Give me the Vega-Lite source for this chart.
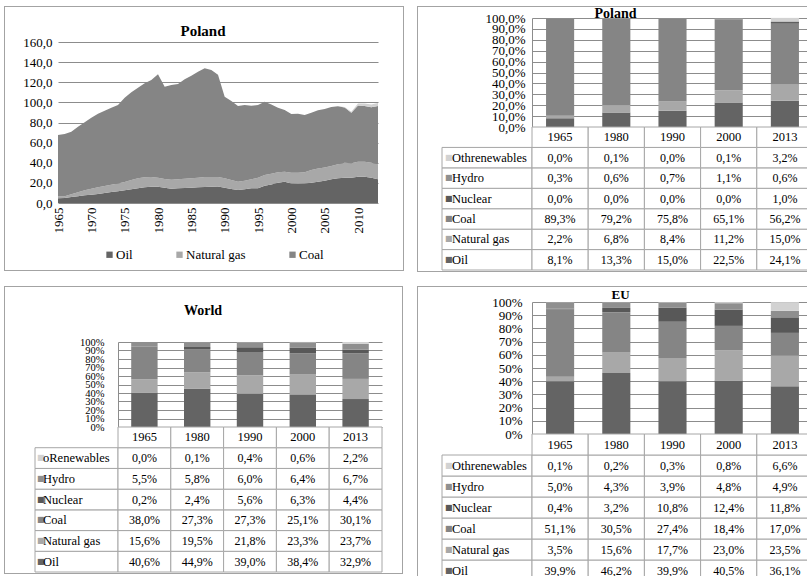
{
  "$schema": "https://vega.github.io/schema/vega-lite/v6.json",
  "background": "white",
  "padding": {"left": 4, "top": 6, "right": 0, "bottom": 0},
  "config": {
    "font": "Liberation Serif",
    "view": {"stroke": null},
    "locale": {"number": {"decimal": ",", "thousands": " ", "grouping": [3], "currency": ["", ""]}},
    "axis": {"labelFont": "Liberation Serif", "labelColor": "#000", "labelFontSize": 13, "ticks": false, "domain": false, "gridColor": "#8c8c8c", "gridOpacity": 1, "labelOverlap": false},
    "title": {"font": "Liberation Serif", "fontSize": 15, "fontWeight": "bold", "color": "#000"},
    "legend": {"labelFont": "Liberation Serif", "labelFontSize": 13, "labelColor": "#000"},
    "text": {"font": "Liberation Serif"}
  },
  "datasets": {
    "ranks": [
      {"source": "Oil", "rank": 1}, {"source": "Natural gas", "rank": 2}, {"source": "Coal", "rank": 3},
      {"source": "Nuclear", "rank": 4}, {"source": "Other", "rank": 4}, {"source": "Hydro", "rank": 5},
      {"source": "Othrenewables", "rank": 6}, {"source": "oRenewables", "rank": 6}
    ],
    "blank": [{"k": 1}],
    "area": [
      {"year": 1965, "Oil": 4.6, "Natural gas": 2.0, "Coal": 61.0, "Other": 0},
      {"year": 1966, "Oil": 5.0, "Natural gas": 1.8, "Coal": 61.8, "Other": 0},
      {"year": 1967, "Oil": 6.0, "Natural gas": 2.6, "Coal": 62.3, "Other": 0},
      {"year": 1968, "Oil": 6.6, "Natural gas": 4.0, "Coal": 65.3, "Other": 0},
      {"year": 1969, "Oil": 7.6, "Natural gas": 5.0, "Coal": 67.6, "Other": 0},
      {"year": 1970, "Oil": 8.3, "Natural gas": 5.9, "Coal": 70.6, "Other": 0},
      {"year": 1971, "Oil": 8.9, "Natural gas": 6.7, "Coal": 73.2, "Other": 0},
      {"year": 1972, "Oil": 9.9, "Natural gas": 7.0, "Coal": 74.9, "Other": 0},
      {"year": 1973, "Oil": 10.9, "Natural gas": 7.3, "Coal": 76.5, "Other": 0},
      {"year": 1974, "Oil": 11.6, "Natural gas": 7.9, "Coal": 77.9, "Other": 0},
      {"year": 1975, "Oil": 12.6, "Natural gas": 8.3, "Coal": 83.8, "Other": 0},
      {"year": 1976, "Oil": 13.6, "Natural gas": 9.3, "Coal": 87.1, "Other": 0},
      {"year": 1977, "Oil": 14.6, "Natural gas": 9.9, "Coal": 90.1, "Other": 0},
      {"year": 1978, "Oil": 15.6, "Natural gas": 9.9, "Coal": 93.4, "Other": 0},
      {"year": 1979, "Oil": 16.2, "Natural gas": 9.6, "Coal": 96.4, "Other": 0},
      {"year": 1980, "Oil": 16.2, "Natural gas": 9.0, "Coal": 102.7, "Other": 0},
      {"year": 1981, "Oil": 15.2, "Natural gas": 8.6, "Coal": 91.8, "Other": 0},
      {"year": 1982, "Oil": 14.2, "Natural gas": 9.0, "Coal": 94.1, "Other": 0},
      {"year": 1983, "Oil": 14.6, "Natural gas": 8.9, "Coal": 94.8, "Other": 0},
      {"year": 1984, "Oil": 14.9, "Natural gas": 9.3, "Coal": 98.7, "Other": 0},
      {"year": 1985, "Oil": 15.2, "Natural gas": 9.3, "Coal": 102.0, "Other": 0},
      {"year": 1986, "Oil": 15.6, "Natural gas": 9.6, "Coal": 105.3, "Other": 0},
      {"year": 1987, "Oil": 15.9, "Natural gas": 9.9, "Coal": 108.0, "Other": 0},
      {"year": 1988, "Oil": 16.2, "Natural gas": 9.6, "Coal": 106.4, "Other": 0},
      {"year": 1989, "Oil": 16.5, "Natural gas": 9.3, "Coal": 101.7, "Other": 0},
      {"year": 1990, "Oil": 15.2, "Natural gas": 9.3, "Coal": 81.2, "Other": 0},
      {"year": 1991, "Oil": 13.9, "Natural gas": 9.0, "Coal": 78.5, "Other": 0},
      {"year": 1992, "Oil": 12.9, "Natural gas": 8.3, "Coal": 75.2, "Other": 0},
      {"year": 1993, "Oil": 13.6, "Natural gas": 8.6, "Coal": 75.2, "Other": 0},
      {"year": 1994, "Oil": 14.6, "Natural gas": 8.9, "Coal": 73.2, "Other": 0},
      {"year": 1995, "Oil": 14.6, "Natural gas": 10.6, "Coal": 72.2, "Other": 0},
      {"year": 1996, "Oil": 17.2, "Natural gas": 10.6, "Coal": 72.9, "Other": 0},
      {"year": 1997, "Oil": 18.5, "Natural gas": 10.6, "Coal": 68.9, "Other": 0},
      {"year": 1998, "Oil": 20.2, "Natural gas": 10.3, "Coal": 64.2, "Other": 0},
      {"year": 1999, "Oil": 21.2, "Natural gas": 9.9, "Coal": 61.3, "Other": 0},
      {"year": 2000, "Oil": 19.5, "Natural gas": 10.6, "Coal": 58.3, "Other": 0},
      {"year": 2001, "Oil": 19.2, "Natural gas": 10.9, "Coal": 58.7, "Other": 0},
      {"year": 2002, "Oil": 19.5, "Natural gas": 11.0, "Coal": 56.9, "Other": 0},
      {"year": 2003, "Oil": 20.2, "Natural gas": 12.6, "Coal": 57.0, "Other": 0},
      {"year": 2004, "Oil": 21.2, "Natural gas": 13.2, "Coal": 57.7, "Other": 0},
      {"year": 2005, "Oil": 22.2, "Natural gas": 13.2, "Coal": 58.0, "Other": 0},
      {"year": 2006, "Oil": 23.5, "Natural gas": 13.3, "Coal": 58.6, "Other": 0},
      {"year": 2007, "Oil": 24.5, "Natural gas": 13.9, "Coal": 57.7, "Other": 0},
      {"year": 2008, "Oil": 25.2, "Natural gas": 14.9, "Coal": 54.9, "Other": 0.4},
      {"year": 2009, "Oil": 25.2, "Natural gas": 14.2, "Coal": 50.4, "Other": 1.0},
      {"year": 2010, "Oil": 26.2, "Natural gas": 14.9, "Coal": 55.9, "Other": 2.0},
      {"year": 2011, "Oil": 26.2, "Natural gas": 14.9, "Coal": 55.4, "Other": 2.5},
      {"year": 2012, "Oil": 25.2, "Natural gas": 14.9, "Coal": 55.1, "Other": 2.8},
      {"year": 2013, "Oil": 23.5, "Natural gas": 14.9, "Coal": 58.0, "Other": 3.0}
    ],
    "shares": [
      {"region": "Poland", "year": "1965", "Othrenewables": 0.000, "Hydro": 0.003, "Nuclear": 0.000, "Coal": 0.893, "Natural gas": 0.022, "Oil": 0.081},
      {"region": "Poland", "year": "1980", "Othrenewables": 0.001, "Hydro": 0.006, "Nuclear": 0.000, "Coal": 0.792, "Natural gas": 0.068, "Oil": 0.133},
      {"region": "Poland", "year": "1990", "Othrenewables": 0.000, "Hydro": 0.007, "Nuclear": 0.000, "Coal": 0.758, "Natural gas": 0.084, "Oil": 0.150},
      {"region": "Poland", "year": "2000", "Othrenewables": 0.001, "Hydro": 0.011, "Nuclear": 0.000, "Coal": 0.651, "Natural gas": 0.112, "Oil": 0.225},
      {"region": "Poland", "year": "2013", "Othrenewables": 0.032, "Hydro": 0.006, "Nuclear": 0.010, "Coal": 0.562, "Natural gas": 0.150, "Oil": 0.241},
      {"region": "World", "year": "1965", "oRenewables": 0.000, "Hydro": 0.055, "Nuclear": 0.002, "Coal": 0.380, "Natural gas": 0.156, "Oil": 0.406},
      {"region": "World", "year": "1980", "oRenewables": 0.001, "Hydro": 0.058, "Nuclear": 0.024, "Coal": 0.273, "Natural gas": 0.195, "Oil": 0.449},
      {"region": "World", "year": "1990", "oRenewables": 0.004, "Hydro": 0.060, "Nuclear": 0.056, "Coal": 0.273, "Natural gas": 0.218, "Oil": 0.390},
      {"region": "World", "year": "2000", "oRenewables": 0.006, "Hydro": 0.064, "Nuclear": 0.063, "Coal": 0.251, "Natural gas": 0.233, "Oil": 0.384},
      {"region": "World", "year": "2013", "oRenewables": 0.022, "Hydro": 0.067, "Nuclear": 0.044, "Coal": 0.301, "Natural gas": 0.237, "Oil": 0.329},
      {"region": "EU", "year": "1965", "Othrenewables": 0.001, "Hydro": 0.050, "Nuclear": 0.004, "Coal": 0.511, "Natural gas": 0.035, "Oil": 0.399},
      {"region": "EU", "year": "1980", "Othrenewables": 0.002, "Hydro": 0.043, "Nuclear": 0.032, "Coal": 0.305, "Natural gas": 0.156, "Oil": 0.462},
      {"region": "EU", "year": "1990", "Othrenewables": 0.003, "Hydro": 0.039, "Nuclear": 0.108, "Coal": 0.274, "Natural gas": 0.177, "Oil": 0.399},
      {"region": "EU", "year": "2000", "Othrenewables": 0.008, "Hydro": 0.048, "Nuclear": 0.124, "Coal": 0.184, "Natural gas": 0.230, "Oil": 0.405},
      {"region": "EU", "year": "2013", "Othrenewables": 0.066, "Hydro": 0.049, "Nuclear": 0.118, "Coal": 0.170, "Natural gas": 0.235, "Oil": 0.361}
    ]
  },
  "resolve": {"scale": {"color": "independent"}},
  "spacing": 13,
  "hconcat": [
    {
      "spacing": 15,
      "resolve": {"scale": {"color": "independent"}},
      "vconcat": [
        {
          "columns": 3, "spacing": 0, "bounds": "flush", "align": "each",
          "resolve": {"scale": {"color": "independent"}},
          "concat": [
            {"width": 1, "height": 1, "data": {"name": "blank"}, "mark": {"type": "text", "text": "", "fontSize": 0}, "encoding": {}, "view": {"fill": "#a3a3a3"}},
            {"width": 398, "height": 1, "data": {"name": "blank"}, "mark": {"type": "text", "text": "", "fontSize": 0}, "encoding": {}, "view": {"fill": "#a3a3a3"}},
            {"width": 1, "height": 1, "data": {"name": "blank"}, "mark": {"type": "text", "text": "", "fontSize": 0}, "encoding": {}, "view": {"fill": "#a3a3a3"}},
            {"width": 1, "height": 263, "data": {"name": "blank"}, "mark": {"type": "text", "text": "", "fontSize": 0}, "encoding": {}, "view": {"fill": "#a3a3a3"}},
            {
              "spacing": 0, "bounds": "flush",
              "resolve": {"scale": {"color": "independent"}},
              "hconcat": [
                {"width": 53, "height": 1, "data": {"name": "blank"}, "mark": {"type": "text", "text": "", "fontSize": 0}, "encoding": {}},
                {
                  "spacing": 0, "bounds": "flush",
                  "resolve": {"scale": {"color": "independent"}},
                  "vconcat": [
                    {"width": 1, "height": 35, "data": {"name": "blank"}, "mark": {"type": "text", "text": "", "fontSize": 0}, "encoding": {}},
                    {
                      "width": 320, "height": 161,
                      "title": {"text": "Poland", "fontSize": 15, "frame": "group", "dx": -15, "offset": -3},
                      "data": {"name": "area"},
                      "transform": [
                        {"fold": ["Oil", "Natural gas", "Coal", "Other"], "as": ["source", "value"]},
                        {"lookup": "source", "from": {"data": {"name": "ranks"}, "key": "source", "fields": ["rank"]}}
                      ],
                      "mark": {"type": "area", "interpolate": "linear"},
                      "encoding": {
                        "x": {"field": "year", "type": "quantitative", "scale": {"domain": [1965, 2013], "nice": false, "zero": false},
                              "axis": {"values": [1965, 1970, 1975, 1980, 1985, 1990, 1995, 2000, 2005, 2010], "format": "d", "labelAngle": -90, "title": null, "grid": false, "labelPadding": 4}},
                        "y": {"field": "value", "type": "quantitative", "stack": "zero", "scale": {"domain": [0, 160], "nice": false},
                              "axis": {"values": [0, 20, 40, 60, 80, 100, 120, 140, 160], "format": ".1f", "grid": true, "title": null, "labelPadding": 6}},
                        "color": {"field": "source", "type": "nominal",
                                  "scale": {"domain": ["Oil", "Natural gas", "Coal", "Other"], "range": ["#646464", "#a8a8a8", "#858585", "#d2d2d2"]},
                                  "legend": {"orient": "none", "legendX": 45, "legendY": 206, "title": null, "direction": "horizontal", "symbolType": "square", "symbolSize": 40, "symbolStrokeWidth": 0, "labelOffset": 0, "columnPadding": 40, "values": ["Oil", "Natural gas", "Coal"]}},
                        "order": {"field": "rank", "type": "quantitative"}
                      }
                    }
                  ]
                }
              ]
            },
            {"width": 1, "height": 263, "data": {"name": "blank"}, "mark": {"type": "text", "text": "", "fontSize": 0}, "encoding": {}, "view": {"fill": "#a3a3a3"}},
            {"width": 1, "height": 1, "data": {"name": "blank"}, "mark": {"type": "text", "text": "", "fontSize": 0}, "encoding": {}, "view": {"fill": "#a3a3a3"}},
            {"width": 398, "height": 1, "data": {"name": "blank"}, "mark": {"type": "text", "text": "", "fontSize": 0}, "encoding": {}, "view": {"fill": "#a3a3a3"}},
            {"width": 1, "height": 1, "data": {"name": "blank"}, "mark": {"type": "text", "text": "", "fontSize": 0}, "encoding": {}, "view": {"fill": "#a3a3a3"}}
          ]
        },
        {
          "columns": 3, "spacing": 0, "bounds": "flush", "align": "each",
          "concat": [
            {"width": 1, "height": 1, "data": {"name": "blank"}, "mark": {"type": "text", "text": "", "fontSize": 0}, "encoding": {}, "view": {"fill": "#a3a3a3"}},
            {"width": 397, "height": 1, "data": {"name": "blank"}, "mark": {"type": "text", "text": "", "fontSize": 0}, "encoding": {}, "view": {"fill": "#a3a3a3"}},
            {"width": 1, "height": 1, "data": {"name": "blank"}, "mark": {"type": "text", "text": "", "fontSize": 0}, "encoding": {}, "view": {"fill": "#a3a3a3"}},
            {"width": 1, "height": 286, "data": {"name": "blank"}, "mark": {"type": "text", "text": "", "fontSize": 0}, "encoding": {}, "view": {"fill": "#a3a3a3"}},
            {
              "spacing": 0, "bounds": "flush",
              "hconcat": [
                {"width": 30, "height": 1, "data": {"name": "blank"}, "mark": {"type": "text", "text": "", "fontSize": 0}, "encoding": {}},
                {
                  "spacing": 0, "bounds": "flush",
                  "vconcat": [
                    {"width": 1, "height": 55, "data": {"name": "blank"}, "mark": {"type": "text", "text": "", "fontSize": 0}, "encoding": {}},
                    {
                      "columns": 2, "spacing": 0, "bounds": "flush", "align": "each",
                      "concat": [
                        {"width": 83, "height": 85, "data": {"name": "blank"}, "mark": {"type": "text", "text": "", "fontSize": 0}, "encoding": {}},
                        {
                          "width": 264, "height": 85,
                          "title": {"text": "World", "fontSize": 14, "frame": "group", "dx": -47, "offset": 19},
                          "data": {"name": "shares"},
                          "transform": [
                            {"filter": "datum.region == 'World'"},
                            {"fold": ["Oil", "Natural gas", "Coal", "Nuclear", "Hydro", "Othrenewables", "oRenewables"], "as": ["source", "share"]},
                            {"filter": "datum.share != null"},
                            {"lookup": "source", "from": {"data": {"name": "ranks"}, "key": "source", "fields": ["rank"]}}
                          ],
                          "mark": {"type": "bar"},
                          "encoding": {
                            "x": {"field": "year", "type": "nominal", "scale": {"paddingInner": 0.5, "paddingOuter": 0.25}, "axis": null},
                            "y": {"field": "share", "type": "quantitative", "stack": "zero", "scale": {"domain": [0, 1], "nice": false},
                                  "axis": {"values": [0, 0.1, 0.2, 0.3, 0.4, 0.5, 0.6, 0.7, 0.8, 0.9, 1], "format": ".0%", "grid": true, "domain": true, "domainColor": "#8c8c8c", "labelFontSize": 10.5, "labelPadding": 14, "title": null}},
                            "color": {"field": "source", "type": "nominal",
                                      "scale": {"domain": ["Oil", "Natural gas", "Coal", "Nuclear", "Hydro", "Othrenewables", "oRenewables"], "range": ["#646464", "#a8a8a8", "#858585", "#585858", "#8f8f8f", "#d2d2d2", "#d2d2d2"]},
                                      "legend": null},
                            "order": {"field": "rank", "type": "quantitative"}
                          }
                        },
                        {
                          "width": 83, "height": 145,
                          "data": {"name": "shares"},
                          "transform": [
                            {"filter": "datum.region == 'World'"},
                            {"fold": ["Oil", "Natural gas", "Coal", "Nuclear", "Hydro", "Othrenewables", "oRenewables"], "as": ["source", "share"]},
                            {"filter": "datum.share != null"},
                            {"aggregate": [{"op": "count", "as": "n"}], "groupby": ["source"]}
                          ],
                          "encoding": {
                            "y": {"field": "source", "type": "nominal", "scale": {"domain": ["hdr", "oRenewables", "Hydro", "Nuclear", "Coal", "Natural gas", "Oil"], "paddingInner": 0, "paddingOuter": 0}, "axis": null}
                          },
                          "resolve": {"scale": {"x": "independent"}},
                          "layer": [
                            {
                              "mark": {"type": "rect", "fill": "white", "stroke": "#a6a6a6", "strokeWidth": 1},
                              "encoding": {"x": {"datum": "lbl", "type": "nominal", "scale": {"paddingInner": 0, "paddingOuter": 0}, "axis": null}}
                            },
                            {
                              "mark": {"type": "text", "text": "■", "font": "DejaVu Sans", "fontSize": 8, "align": "left", "baseline": "middle", "dx": 2},
                              "encoding": {
                                "x": {"datum": "lbl", "type": "nominal", "scale": {"type": "point", "padding": 0, "align": 0}, "axis": null},
                                "color": {"field": "source", "type": "nominal",
                                          "scale": {"domain": ["Oil", "Natural gas", "Coal", "Nuclear", "Hydro", "Othrenewables", "oRenewables"], "range": ["#646464", "#a8a8a8", "#858585", "#585858", "#8f8f8f", "#d2d2d2", "#d2d2d2"]},
                                          "legend": null}
                              }
                            },
                            {
                              "mark": {"type": "text", "font": "Liberation Serif", "fontSize": 12.5, "align": "left", "baseline": "middle", "dx": 8},
                              "encoding": {
                                "x": {"datum": "lbl", "type": "nominal", "scale": {"type": "point", "padding": 0, "align": 0}, "axis": null},
                                "text": {"field": "source"}
                              }
                            }
                          ]
                        },
                        {
                          "width": 264, "height": 145,
                          "data": {"name": "shares"},
                          "transform": [
                            {"filter": "datum.region == 'World'"},
                            {"fold": ["Oil", "Natural gas", "Coal", "Nuclear", "Hydro", "Othrenewables", "oRenewables"], "as": ["source", "share"]},
                            {"filter": "datum.share != null"}
                          ],
                          "encoding": {
                            "y": {"field": "source", "type": "nominal", "scale": {"domain": ["hdr", "oRenewables", "Hydro", "Nuclear", "Coal", "Natural gas", "Oil"], "paddingInner": 0, "paddingOuter": 0}, "axis": null}
                          },
                          "resolve": {"scale": {"x": "independent"}},
                          "layer": [
                            {
                              "mark": {"type": "rect", "fill": "white", "stroke": "#a6a6a6", "strokeWidth": 1},
                              "encoding": {"x": {"field": "year", "type": "nominal", "scale": {"paddingInner": 0, "paddingOuter": 0}, "axis": null}}
                            },
                            {
                              "mark": {"type": "text", "font": "Liberation Serif", "fontSize": 12, "baseline": "middle"},
                              "encoding": {
                                "x": {"field": "year", "type": "nominal", "axis": null},
                                "text": {"field": "share", "type": "quantitative", "format": ".1%"}
                              }
                            },
                            {
                              "transform": [{"aggregate": [{"op": "count", "as": "n"}], "groupby": ["year"]}],
                              "mark": {"type": "rect", "fill": "white", "stroke": "#a6a6a6", "strokeWidth": 1},
                              "encoding": {
                                "x": {"field": "year", "type": "nominal", "scale": {"paddingInner": 0, "paddingOuter": 0}, "axis": null},
                                "y": {"datum": "hdr", "type": "nominal", "scale": {"domain": ["hdr", "oRenewables", "Hydro", "Nuclear", "Coal", "Natural gas", "Oil"], "paddingInner": 0, "paddingOuter": 0}, "axis": null}
                              }
                            },
                            {
                              "transform": [{"aggregate": [{"op": "count", "as": "n"}], "groupby": ["year"]}],
                              "mark": {"type": "text", "font": "Liberation Serif", "fontSize": 12.5, "baseline": "middle"},
                              "encoding": {
                                "x": {"field": "year", "type": "nominal", "axis": null},
                                "y": {"datum": "hdr", "type": "nominal", "scale": {"domain": ["hdr", "oRenewables", "Hydro", "Nuclear", "Coal", "Natural gas", "Oil"], "paddingInner": 0, "paddingOuter": 0}, "axis": null},
                                "text": {"field": "year"}
                              }
                            }
                          ]
                        }
                      ]
                    }
                  ]
                }
              ]
            },
            {"width": 1, "height": 286, "data": {"name": "blank"}, "mark": {"type": "text", "text": "", "fontSize": 0}, "encoding": {}, "view": {"fill": "#a3a3a3"}},
            {"width": 1, "height": 1, "data": {"name": "blank"}, "mark": {"type": "text", "text": "", "fontSize": 0}, "encoding": {}, "view": {"fill": "#a3a3a3"}},
            {"width": 397, "height": 1, "data": {"name": "blank"}, "mark": {"type": "text", "text": "", "fontSize": 0}, "encoding": {}, "view": {"fill": "#a3a3a3"}},
            {"width": 1, "height": 1, "data": {"name": "blank"}, "mark": {"type": "text", "text": "", "fontSize": 0}, "encoding": {}, "view": {"fill": "#a3a3a3"}}
          ]
        }
      ]
    },
    {
      "spacing": 14,
      "vconcat": [
        {
          "columns": 3, "spacing": 0, "bounds": "flush", "align": "each",
          "concat": [
            {"width": 1, "height": 1, "data": {"name": "blank"}, "mark": {"type": "text", "text": "", "fontSize": 0}, "encoding": {}, "view": {"fill": "#a3a3a3"}},
            {"width": 400, "height": 1, "data": {"name": "blank"}, "mark": {"type": "text", "text": "", "fontSize": 0}, "encoding": {}, "view": {"fill": "#a3a3a3"}},
            {"width": 1, "height": 1, "data": {"name": "blank"}, "mark": {"type": "text", "text": "", "fontSize": 0}, "encoding": {}, "view": {"fill": "#a3a3a3"}},
            {"width": 1, "height": 264, "data": {"name": "blank"}, "mark": {"type": "text", "text": "", "fontSize": 0}, "encoding": {}, "view": {"fill": "#a3a3a3"}},
            {
              "spacing": 0, "bounds": "flush",
              "hconcat": [
                {"width": 24, "height": 1, "data": {"name": "blank"}, "mark": {"type": "text", "text": "", "fontSize": 0}, "encoding": {}},
                {
                  "spacing": 0, "bounds": "flush",
                  "vconcat": [
                    {"width": 1, "height": 11, "data": {"name": "blank"}, "mark": {"type": "text", "text": "", "fontSize": 0}, "encoding": {}},
                    {
                      "columns": 2, "spacing": 0, "bounds": "flush", "align": "each",
                      "concat": [
                        {"width": 90, "height": 109, "data": {"name": "blank"}, "mark": {"type": "text", "text": "", "fontSize": 0}, "encoding": {}},
                        {
                          "width": 281, "height": 109,
                          "title": {"text": "Poland", "fontSize": 14, "frame": "group", "dx": -57, "offset": -9},
                          "data": {"name": "shares"},
                          "transform": [
                            {"filter": "datum.region == 'Poland'"},
                            {"fold": ["Oil", "Natural gas", "Coal", "Nuclear", "Hydro", "Othrenewables", "oRenewables"], "as": ["source", "share"]},
                            {"filter": "datum.share != null"},
                            {"lookup": "source", "from": {"data": {"name": "ranks"}, "key": "source", "fields": ["rank"]}}
                          ],
                          "mark": {"type": "bar"},
                          "encoding": {
                            "x": {"field": "year", "type": "nominal", "scale": {"paddingInner": 0.5, "paddingOuter": 0.25}, "axis": null},
                            "y": {"field": "share", "type": "quantitative", "stack": "zero", "scale": {"domain": [0, 1], "nice": false},
                                  "axis": {"values": [0, 0.1, 0.2, 0.3, 0.4, 0.5, 0.6, 0.7, 0.8, 0.9, 1], "format": ".1%", "grid": true, "domain": true, "domainColor": "#8c8c8c", "labelFontSize": 13, "labelPadding": 7, "title": null}},
                            "color": {"field": "source", "type": "nominal",
                                      "scale": {"domain": ["Oil", "Natural gas", "Coal", "Nuclear", "Hydro", "Othrenewables", "oRenewables"], "range": ["#646464", "#a8a8a8", "#858585", "#585858", "#8f8f8f", "#d2d2d2", "#d2d2d2"]},
                                      "legend": null},
                            "order": {"field": "rank", "type": "quantitative"}
                          }
                        },
                        {
                          "width": 90, "height": 143,
                          "data": {"name": "shares"},
                          "transform": [
                            {"filter": "datum.region == 'Poland'"},
                            {"fold": ["Oil", "Natural gas", "Coal", "Nuclear", "Hydro", "Othrenewables", "oRenewables"], "as": ["source", "share"]},
                            {"filter": "datum.share != null"},
                            {"aggregate": [{"op": "count", "as": "n"}], "groupby": ["source"]}
                          ],
                          "encoding": {
                            "y": {"field": "source", "type": "nominal", "scale": {"domain": ["hdr", "Othrenewables", "Hydro", "Nuclear", "Coal", "Natural gas", "Oil"], "paddingInner": 0, "paddingOuter": 0}, "axis": null}
                          },
                          "resolve": {"scale": {"x": "independent"}},
                          "layer": [
                            {
                              "mark": {"type": "rect", "fill": "white", "stroke": "#a6a6a6", "strokeWidth": 1},
                              "encoding": {"x": {"datum": "lbl", "type": "nominal", "scale": {"paddingInner": 0, "paddingOuter": 0}, "axis": null}}
                            },
                            {
                              "mark": {"type": "text", "text": "■", "font": "DejaVu Sans", "fontSize": 8, "align": "left", "baseline": "middle", "dx": 3},
                              "encoding": {
                                "x": {"datum": "lbl", "type": "nominal", "scale": {"type": "point", "padding": 0, "align": 0}, "axis": null},
                                "color": {"field": "source", "type": "nominal",
                                          "scale": {"domain": ["Oil", "Natural gas", "Coal", "Nuclear", "Hydro", "Othrenewables", "oRenewables"], "range": ["#646464", "#a8a8a8", "#858585", "#585858", "#8f8f8f", "#d2d2d2", "#d2d2d2"]},
                                          "legend": null}
                              }
                            },
                            {
                              "mark": {"type": "text", "font": "Liberation Serif", "fontSize": 12.5, "align": "left", "baseline": "middle", "dx": 10},
                              "encoding": {
                                "x": {"datum": "lbl", "type": "nominal", "scale": {"type": "point", "padding": 0, "align": 0}, "axis": null},
                                "text": {"field": "source"}
                              }
                            }
                          ]
                        },
                        {
                          "width": 281, "height": 143,
                          "data": {"name": "shares"},
                          "transform": [
                            {"filter": "datum.region == 'Poland'"},
                            {"fold": ["Oil", "Natural gas", "Coal", "Nuclear", "Hydro", "Othrenewables", "oRenewables"], "as": ["source", "share"]},
                            {"filter": "datum.share != null"}
                          ],
                          "encoding": {
                            "y": {"field": "source", "type": "nominal", "scale": {"domain": ["hdr", "Othrenewables", "Hydro", "Nuclear", "Coal", "Natural gas", "Oil"], "paddingInner": 0, "paddingOuter": 0}, "axis": null}
                          },
                          "resolve": {"scale": {"x": "independent"}},
                          "layer": [
                            {
                              "mark": {"type": "rect", "fill": "white", "stroke": "#a6a6a6", "strokeWidth": 1},
                              "encoding": {"x": {"field": "year", "type": "nominal", "scale": {"paddingInner": 0, "paddingOuter": 0}, "axis": null}}
                            },
                            {
                              "mark": {"type": "text", "font": "Liberation Serif", "fontSize": 12, "baseline": "middle"},
                              "encoding": {
                                "x": {"field": "year", "type": "nominal", "axis": null},
                                "text": {"field": "share", "type": "quantitative", "format": ".1%"}
                              }
                            },
                            {
                              "transform": [{"aggregate": [{"op": "count", "as": "n"}], "groupby": ["year"]}],
                              "mark": {"type": "rect", "fill": "white", "stroke": "#a6a6a6", "strokeWidth": 1},
                              "encoding": {
                                "x": {"field": "year", "type": "nominal", "scale": {"paddingInner": 0, "paddingOuter": 0}, "axis": null},
                                "y": {"datum": "hdr", "type": "nominal", "scale": {"domain": ["hdr", "Othrenewables", "Hydro", "Nuclear", "Coal", "Natural gas", "Oil"], "paddingInner": 0, "paddingOuter": 0}, "axis": null}
                              }
                            },
                            {
                              "transform": [{"aggregate": [{"op": "count", "as": "n"}], "groupby": ["year"]}],
                              "mark": {"type": "text", "font": "Liberation Serif", "fontSize": 12.5, "baseline": "middle"},
                              "encoding": {
                                "x": {"field": "year", "type": "nominal", "axis": null},
                                "y": {"datum": "hdr", "type": "nominal", "scale": {"domain": ["hdr", "Othrenewables", "Hydro", "Nuclear", "Coal", "Natural gas", "Oil"], "paddingInner": 0, "paddingOuter": 0}, "axis": null},
                                "text": {"field": "year"}
                              }
                            }
                          ]
                        }
                      ]
                    }
                  ]
                }
              ]
            },
            {"width": 1, "height": 264, "data": {"name": "blank"}, "mark": {"type": "text", "text": "", "fontSize": 0}, "encoding": {}, "view": {"fill": "#a3a3a3"}},
            {"width": 1, "height": 1, "data": {"name": "blank"}, "mark": {"type": "text", "text": "", "fontSize": 0}, "encoding": {}, "view": {"fill": "#a3a3a3"}},
            {"width": 400, "height": 1, "data": {"name": "blank"}, "mark": {"type": "text", "text": "", "fontSize": 0}, "encoding": {}, "view": {"fill": "#a3a3a3"}},
            {"width": 1, "height": 1, "data": {"name": "blank"}, "mark": {"type": "text", "text": "", "fontSize": 0}, "encoding": {}, "view": {"fill": "#a3a3a3"}}
          ]
        },
        {
          "columns": 3, "spacing": 0, "bounds": "flush", "align": "each",
          "concat": [
            {"width": 1, "height": 1, "data": {"name": "blank"}, "mark": {"type": "text", "text": "", "fontSize": 0}, "encoding": {}, "view": {"fill": "#a3a3a3"}},
            {"width": 400, "height": 1, "data": {"name": "blank"}, "mark": {"type": "text", "text": "", "fontSize": 0}, "encoding": {}, "view": {"fill": "#a3a3a3"}},
            {"width": 1, "height": 1, "data": {"name": "blank"}, "mark": {"type": "text", "text": "", "fontSize": 0}, "encoding": {}, "view": {"fill": "#a3a3a3"}},
            {"width": 1, "height": 300, "data": {"name": "blank"}, "mark": {"type": "text", "text": "", "fontSize": 0}, "encoding": {}, "view": {"fill": "#a3a3a3"}},
            {
              "spacing": 0, "bounds": "flush",
              "hconcat": [
                {"width": 24, "height": 1, "data": {"name": "blank"}, "mark": {"type": "text", "text": "", "fontSize": 0}, "encoding": {}},
                {
                  "spacing": 0, "bounds": "flush",
                  "vconcat": [
                    {"width": 1, "height": 15, "data": {"name": "blank"}, "mark": {"type": "text", "text": "", "fontSize": 0}, "encoding": {}},
                    {
                      "columns": 2, "spacing": 0, "bounds": "flush", "align": "each",
                      "concat": [
                        {"width": 90, "height": 132, "data": {"name": "blank"}, "mark": {"type": "text", "text": "", "fontSize": 0}, "encoding": {}},
                        {
                          "width": 281, "height": 132,
                          "title": {"text": "EU", "fontSize": 13, "frame": "group", "dx": -52, "offset": -6},
                          "data": {"name": "shares"},
                          "transform": [
                            {"filter": "datum.region == 'EU'"},
                            {"fold": ["Oil", "Natural gas", "Coal", "Nuclear", "Hydro", "Othrenewables", "oRenewables"], "as": ["source", "share"]},
                            {"filter": "datum.share != null"},
                            {"lookup": "source", "from": {"data": {"name": "ranks"}, "key": "source", "fields": ["rank"]}}
                          ],
                          "mark": {"type": "bar"},
                          "encoding": {
                            "x": {"field": "year", "type": "nominal", "scale": {"paddingInner": 0.5, "paddingOuter": 0.25}, "axis": null},
                            "y": {"field": "share", "type": "quantitative", "stack": "zero", "scale": {"domain": [0, 1], "nice": false},
                                  "axis": {"values": [0, 0.1, 0.2, 0.3, 0.4, 0.5, 0.6, 0.7, 0.8, 0.9, 1], "format": ".0%", "grid": true, "domain": true, "domainColor": "#8c8c8c", "labelFontSize": 13, "labelPadding": 10, "title": null}},
                            "color": {"field": "source", "type": "nominal",
                                      "scale": {"domain": ["Oil", "Natural gas", "Coal", "Nuclear", "Hydro", "Othrenewables", "oRenewables"], "range": ["#646464", "#a8a8a8", "#858585", "#585858", "#8f8f8f", "#d2d2d2", "#d2d2d2"]},
                                      "legend": null},
                            "order": {"field": "rank", "type": "quantitative"}
                          }
                        },
                        {
                          "width": 90, "height": 147,
                          "data": {"name": "shares"},
                          "transform": [
                            {"filter": "datum.region == 'EU'"},
                            {"fold": ["Oil", "Natural gas", "Coal", "Nuclear", "Hydro", "Othrenewables", "oRenewables"], "as": ["source", "share"]},
                            {"filter": "datum.share != null"},
                            {"aggregate": [{"op": "count", "as": "n"}], "groupby": ["source"]}
                          ],
                          "encoding": {
                            "y": {"field": "source", "type": "nominal", "scale": {"domain": ["hdr", "Othrenewables", "Hydro", "Nuclear", "Coal", "Natural gas", "Oil"], "paddingInner": 0, "paddingOuter": 0}, "axis": null}
                          },
                          "resolve": {"scale": {"x": "independent"}},
                          "layer": [
                            {
                              "mark": {"type": "rect", "fill": "white", "stroke": "#a6a6a6", "strokeWidth": 1},
                              "encoding": {"x": {"datum": "lbl", "type": "nominal", "scale": {"paddingInner": 0, "paddingOuter": 0}, "axis": null}}
                            },
                            {
                              "mark": {"type": "text", "text": "■", "font": "DejaVu Sans", "fontSize": 8, "align": "left", "baseline": "middle", "dx": 3},
                              "encoding": {
                                "x": {"datum": "lbl", "type": "nominal", "scale": {"type": "point", "padding": 0, "align": 0}, "axis": null},
                                "color": {"field": "source", "type": "nominal",
                                          "scale": {"domain": ["Oil", "Natural gas", "Coal", "Nuclear", "Hydro", "Othrenewables", "oRenewables"], "range": ["#646464", "#a8a8a8", "#858585", "#585858", "#8f8f8f", "#d2d2d2", "#d2d2d2"]},
                                          "legend": null}
                              }
                            },
                            {
                              "mark": {"type": "text", "font": "Liberation Serif", "fontSize": 12.5, "align": "left", "baseline": "middle", "dx": 10},
                              "encoding": {
                                "x": {"datum": "lbl", "type": "nominal", "scale": {"type": "point", "padding": 0, "align": 0}, "axis": null},
                                "text": {"field": "source"}
                              }
                            }
                          ]
                        },
                        {
                          "width": 281, "height": 147,
                          "data": {"name": "shares"},
                          "transform": [
                            {"filter": "datum.region == 'EU'"},
                            {"fold": ["Oil", "Natural gas", "Coal", "Nuclear", "Hydro", "Othrenewables", "oRenewables"], "as": ["source", "share"]},
                            {"filter": "datum.share != null"}
                          ],
                          "encoding": {
                            "y": {"field": "source", "type": "nominal", "scale": {"domain": ["hdr", "Othrenewables", "Hydro", "Nuclear", "Coal", "Natural gas", "Oil"], "paddingInner": 0, "paddingOuter": 0}, "axis": null}
                          },
                          "resolve": {"scale": {"x": "independent"}},
                          "layer": [
                            {
                              "mark": {"type": "rect", "fill": "white", "stroke": "#a6a6a6", "strokeWidth": 1},
                              "encoding": {"x": {"field": "year", "type": "nominal", "scale": {"paddingInner": 0, "paddingOuter": 0}, "axis": null}}
                            },
                            {
                              "mark": {"type": "text", "font": "Liberation Serif", "fontSize": 12, "baseline": "middle"},
                              "encoding": {
                                "x": {"field": "year", "type": "nominal", "axis": null},
                                "text": {"field": "share", "type": "quantitative", "format": ".1%"}
                              }
                            },
                            {
                              "transform": [{"aggregate": [{"op": "count", "as": "n"}], "groupby": ["year"]}],
                              "mark": {"type": "rect", "fill": "white", "stroke": "#a6a6a6", "strokeWidth": 1},
                              "encoding": {
                                "x": {"field": "year", "type": "nominal", "scale": {"paddingInner": 0, "paddingOuter": 0}, "axis": null},
                                "y": {"datum": "hdr", "type": "nominal", "scale": {"domain": ["hdr", "Othrenewables", "Hydro", "Nuclear", "Coal", "Natural gas", "Oil"], "paddingInner": 0, "paddingOuter": 0}, "axis": null}
                              }
                            },
                            {
                              "transform": [{"aggregate": [{"op": "count", "as": "n"}], "groupby": ["year"]}],
                              "mark": {"type": "text", "font": "Liberation Serif", "fontSize": 12.5, "baseline": "middle"},
                              "encoding": {
                                "x": {"field": "year", "type": "nominal", "axis": null},
                                "y": {"datum": "hdr", "type": "nominal", "scale": {"domain": ["hdr", "Othrenewables", "Hydro", "Nuclear", "Coal", "Natural gas", "Oil"], "paddingInner": 0, "paddingOuter": 0}, "axis": null},
                                "text": {"field": "year"}
                              }
                            }
                          ]
                        }
                      ]
                    }
                  ]
                }
              ]
            },
            {"width": 1, "height": 300, "data": {"name": "blank"}, "mark": {"type": "text", "text": "", "fontSize": 0}, "encoding": {}, "view": {"fill": "#a3a3a3"}},
            {"width": 1, "height": 1, "data": {"name": "blank"}, "mark": {"type": "text", "text": "", "fontSize": 0}, "encoding": {}, "view": {"fill": "#a3a3a3"}},
            {"width": 400, "height": 1, "data": {"name": "blank"}, "mark": {"type": "text", "text": "", "fontSize": 0}, "encoding": {}, "view": {"fill": "#a3a3a3"}},
            {"width": 1, "height": 1, "data": {"name": "blank"}, "mark": {"type": "text", "text": "", "fontSize": 0}, "encoding": {}, "view": {"fill": "#a3a3a3"}}
          ]
        }
      ]
    }
  ]
}
